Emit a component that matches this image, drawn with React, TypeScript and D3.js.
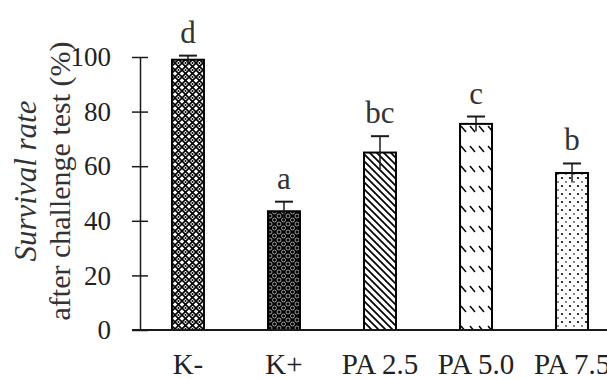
import React, { useEffect, useRef } from 'react';
import * as d3 from 'd3';

// Survival rate per treatment, mean and error
const categories = ['K-', 'K+', 'PA 2.5', 'PA 5.0', 'PA 7.5'];
const survival = [99, 43.5, 65, 75.5, 57.5];
const errors = [1.5, 3.5, 6, 2.7, 3.5];
const letters = ['d', 'a', 'bc', 'c', 'b'];
const yTicks = [0, 20, 40, 60, 80, 100];
const patternIds = ['pat-km', 'pat-kp', 'pat-pa25', 'pat-pa50', 'pat-pa75'];

const W = 607;
const H = 379;

const App = () => {
  const svgRef = useRef<SVGSVGElement>(null);

  useEffect(() => {
    const svg = d3.select(svgRef.current);
    svg.selectAll('*').remove();

    const ink = '#1a1a1a';
    const font = '"Liberation Serif", "Times New Roman", serif';

    // fill patterns for the bars
    const defs = svg.append('defs');

    // K- : white diamonds on a black lattice
    const p1 = defs.append('pattern').attr('id', patternIds[0])
      .attr('patternUnits', 'userSpaceOnUse').attr('width', 7).attr('height', 7);
    p1.append('rect').attr('width', 7).attr('height', 7).attr('fill', '#fff');
    p1.append('path').attr('d', 'M0,0 L7,7 M7,0 L0,7')
      .attr('stroke', '#000').attr('stroke-width', 1.6);
    p1.append('circle').attr('cx', 3.5).attr('cy', 0).attr('r', 1).attr('fill', '#000');
    p1.append('circle').attr('cx', 3.5).attr('cy', 7).attr('r', 1).attr('fill', '#000');

    // K+ : black with white rings
    const p2 = defs.append('pattern').attr('id', patternIds[1])
      .attr('patternUnits', 'userSpaceOnUse').attr('width', 9).attr('height', 8);
    p2.append('rect').attr('width', 9).attr('height', 8).attr('fill', '#000');
    [[0, 0], [9, 0], [4.5, 4], [0, 8], [9, 8]].forEach(([cx, cy]) => {
      p2.append('circle').attr('cx', cx).attr('cy', cy).attr('r', 2)
        .attr('fill', 'none').attr('stroke', '#fff').attr('stroke-width', 0.6);
    });

    // PA 2.5 : diagonal lines
    const p3 = defs.append('pattern').attr('id', patternIds[2])
      .attr('patternUnits', 'userSpaceOnUse').attr('width', 7).attr('height', 7);
    p3.append('rect').attr('width', 7).attr('height', 7).attr('fill', '#fff');
    p3.append('path').attr('d', 'M-1,-1 L8,8 M-1,6 L1,8 M6,-1 L8,1')
      .attr('stroke', '#000').attr('stroke-width', 1.7);

    // PA 5.0 : short diagonal dashes
    const p4 = defs.append('pattern').attr('id', patternIds[3])
      .attr('patternUnits', 'userSpaceOnUse').attr('width', 9).attr('height', 20);
    p4.append('rect').attr('width', 9).attr('height', 20).attr('fill', '#fff');
    p4.append('path').attr('d', 'M2,6 L7,12')
      .attr('stroke', '#000').attr('stroke-width', 1.4);

    // PA 7.5 : dots
    const p5 = defs.append('pattern').attr('id', patternIds[4])
      .attr('patternUnits', 'userSpaceOnUse').attr('width', 8).attr('height', 8);
    p5.append('rect').attr('width', 8).attr('height', 8).attr('fill', '#fff');
    p5.append('circle').attr('cx', 2).attr('cy', 2).attr('r', 1.1).attr('fill', '#000');
    p5.append('circle').attr('cx', 6).attr('cy', 6).attr('r', 0.8).attr('fill', '#000');

    const x = d3.scaleBand<string>()
      .domain(categories)
      .range([140, 620])
      .paddingInner(0.667)
      .paddingOuter(0.333);

    const y = d3.scaleLinear().domain([0, 100]).range([330, 57]);

    const data = categories.map((c, i) => ({
      c, v: survival[i], e: errors[i], l: letters[i], p: patternIds[i],
    }));

    // bars
    svg.selectAll('.bar').data(data).enter().append('rect')
      .attr('class', 'bar')
      .attr('x', d => x(d.c)!)
      .attr('y', d => y(d.v))
      .attr('width', x.bandwidth())
      .attr('height', d => y(0) - y(d.v))
      .attr('fill', d => `url(#${d.p})`)
      .attr('stroke', '#000')
      .attr('stroke-width', 2);

    // error bars
    const cx = (d: { c: string }) => x(d.c)! + x.bandwidth() / 2;
    const eb = svg.selectAll('.err').data(data).enter().append('g').attr('class', 'err');
    eb.append('line')
      .attr('x1', cx).attr('x2', cx)
      .attr('y1', d => y(d.v + d.e)).attr('y2', d => y(d.v - d.e))
      .attr('stroke', ink).attr('stroke-width', 1.5);
    eb.append('line')
      .attr('x1', d => cx(d) - 9).attr('x2', d => cx(d) + 9)
      .attr('y1', d => y(d.v + d.e)).attr('y2', d => y(d.v + d.e))
      .attr('stroke', ink).attr('stroke-width', 2);

    // significance letters
    svg.selectAll('.sig').data(data).enter().append('text')
      .attr('x', cx)
      .attr('y', d => y(d.v + d.e) - 13)
      .attr('text-anchor', 'middle')
      .attr('font-family', font)
      .attr('font-size', 31)
      .attr('fill', '#333')
      .text(d => d.l);

    // y axis
    const yAxis = svg.append('g')
      .attr('transform', 'translate(140,0)')
      .call(d3.axisLeft(y).tickValues(yTicks).tickSize(8).tickSizeOuter(0).tickFormat(() => ''));
    yAxis.select('.domain').attr('stroke', ink).attr('stroke-width', 1.5);
    yAxis.selectAll('.tick line')
      .attr('x1', 8).attr('x2', -8)
      .attr('stroke', ink).attr('stroke-width', 1.5);

    svg.selectAll('.ylab').data(yTicks).enter().append('text')
      .attr('x', 111)
      .attr('y', t => y(t))
      .attr('dy', '0.34em')
      .attr('text-anchor', 'end')
      .attr('font-family', font)
      .attr('font-size', 27)
      .attr('fill', '#222')
      .text(t => t);

    // x axis
    svg.append('line')
      .attr('x1', 132).attr('x2', W)
      .attr('y1', y(0)).attr('y2', y(0))
      .attr('stroke', ink).attr('stroke-width', 2);

    // last label runs off the right edge, as in the source figure
    svg.selectAll('.xlab').data(categories).enter().append('text')
      .attr('x', c => x(c)! + x.bandwidth() / 2)
      .attr('y', 374)
      .attr('text-anchor', 'middle')
      .attr('font-family', font)
      .attr('font-size', 29)
      .attr('fill', '#222')
      .text(c => c);

    // y axis title
    const title = svg.append('g').attr('transform', 'translate(0,181) rotate(-90)');
    title.append('text')
      .attr('x', 0).attr('y', 36)
      .attr('text-anchor', 'middle')
      .attr('font-family', font)
      .attr('font-style', 'italic')
      .attr('font-size', 31)
      .attr('fill', '#333')
      .text('Survival rate');
    title.append('text')
      .attr('x', 0).attr('y', 70)
      .attr('text-anchor', 'middle')
      .attr('font-family', font)
      .attr('font-size', 30)
      .attr('fill', '#333')
      .text('after challenge test (%)');
  }, []);

  return (
    <svg
      ref={svgRef}
      width={W}
      height={H}
      style={{ position: 'absolute', left: 0, top: 0, background: '#fff' }}
    ></svg>
  );
};

export default App;
